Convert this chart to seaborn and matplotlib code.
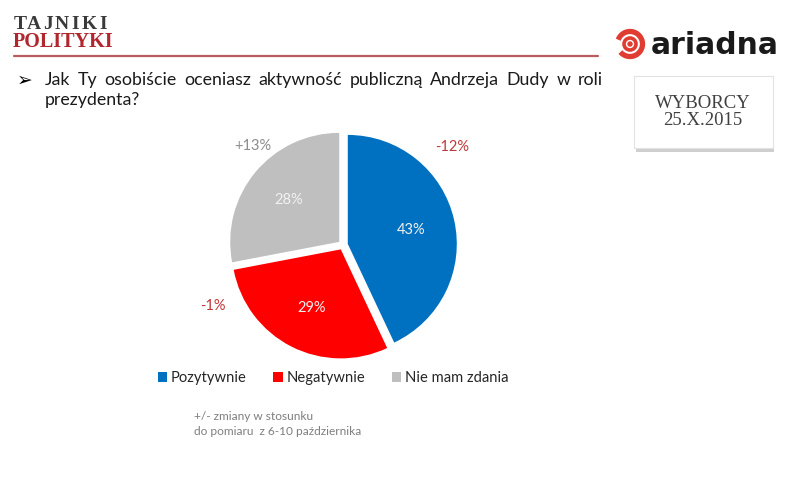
import matplotlib
matplotlib.use("Agg")
import matplotlib.pyplot as plt
import matplotlib.patches as mpatches
import seaborn as sns

# survey data
categories = ["Pozytywnie", "Negatywnie", "Nie mam zdania"]
shares = [43, 29, 28]
changes = ["-12%", "-1%", "+13%"]
question_lines = ["Jak Ty osobiście oceniasz aktywność publiczną Andrzeja Dudy w roli",
                  "prezydenta?"]
footnote = "+/- zmiany w stosunku\ndo pomiaru  z 6-10 października"
badge = "WYBORCY\n25.X.2015"

# layout only
colors = ["#0070C0", "#FF0000", "#BFBFBF"]
change_colors = ["#C0393B", "#C0393B", "#8C8C8C"]
change_pos = [(1.0, 0.9), (-1.19, -0.56), (-0.83, 0.91)]

sns.set_theme(style="white")
plt.rcParams["font.family"] = ["Lato", "DejaVu Sans"]

fig = plt.figure(figsize=(7.88, 4.78), dpi=100)
fig.patch.set_facecolor("white")

# pixel overlay for header, badge and notes
bg = fig.add_axes([0, 0, 1, 1])
bg.set_xlim(0, 788)
bg.set_ylim(478, 0)
bg.axis("off")

# spaced-out "TAJNIKI" over "POLITYKI"
for i, ch in enumerate("TAJNIKI"):
    bg.text(20 + i * 13.8, 24, ch, family="Liberation Serif", fontweight="bold",
            fontsize=14, color="#3a3a3a", va="center", ha="center")
bg.text(13, 42, "POLITYKI", family="Liberation Serif", fontweight="bold",
        fontsize=14.5, color="#B0282E", va="center")
bg.plot([14, 598], [56, 56], color="#B85C60", lw=1.6)

# ariadna logo
bg.add_patch(mpatches.Arc((630, 44), 25, 25, theta1=200, theta2=500, color="#E03C31", lw=3.8))
bg.add_patch(mpatches.Circle((630, 44), 6, fill=False, ec="#E03C31", lw=2.6))
bg.add_patch(mpatches.Circle((630, 44), 2, color="#E03C31"))
bg.text(651, 45, "ariadna", fontsize=21.5, fontweight="bold", color="#1a1a1a",
        family="DejaVu Sans", va="center")

# date badge with shadow
bg.add_patch(mpatches.Rectangle((636, 80), 138, 72, color="#b0b0b0", alpha=0.6, lw=0))
bg.add_patch(mpatches.Rectangle((634, 76), 139, 72, fc="white", ec="#e2e2e2", lw=0.8))
bg.text(703, 112, badge, family="Liberation Serif", fontsize=13.5, color="#404040",
        ha="center", va="center", linespacing=1.0)

bg.text(17, 80, "➢", family="DejaVu Sans", fontsize=13.5, color="black", va="center")

# question: first line justified like the slide text box
renderer = fig.canvas.get_renderer()
words = question_lines[0].split()
word_txt = [bg.text(0, 80, w, fontsize=12.8, color="#1a1a1a", va="center") for w in words]
widths = [t.get_window_extent(renderer).width for t in word_txt]
gap = (603 - 45 - sum(widths)) / (len(words) - 1)
x = 45
for t, w in zip(word_txt, widths):
    t.set_x(x)
    x += w + gap
bg.text(45, 100, question_lines[1], fontsize=12.8, color="#1a1a1a", va="center")

bg.text(194, 424, footnote, fontsize=8.6, color="#7f7f7f", va="center", linespacing=1.35)

# pie
r = 109
cx, cy = 343, 245
ax = fig.add_axes([(cx - 1.3 * r) / 788, 1 - (cy + 1.3 * r) / 478, 2.6 * r / 788, 2.6 * r / 478])
wedges, texts, autotexts = ax.pie(
    shares, colors=colors, startangle=90, counterclock=False,
    explode=[0.045] * 3, autopct="%d%%", pctdistance=0.6,
    wedgeprops=dict(linewidth=0),
    textprops=dict(color="#F2F2F2", fontsize=10.5))
ax.set_xlim(-1.3, 1.3)
ax.set_ylim(-1.3, 1.3)
ax.set_aspect("equal")
ax.axis("off")

for lbl, col, (px, py) in zip(changes, change_colors, change_pos):
    ax.text(px, py, lbl, color=col, fontsize=10.5, ha="center", va="center")

fig.legend(wedges, categories, loc="center", bbox_to_anchor=(333 / 788, 1 - 378 / 478),
           ncol=3, frameon=False, fontsize=10.6, handlelength=0.65, handleheight=0.65,
           handletextpad=0.25, columnspacing=1.8)

fig.savefig("out.png", dpi=100, facecolor="white")
